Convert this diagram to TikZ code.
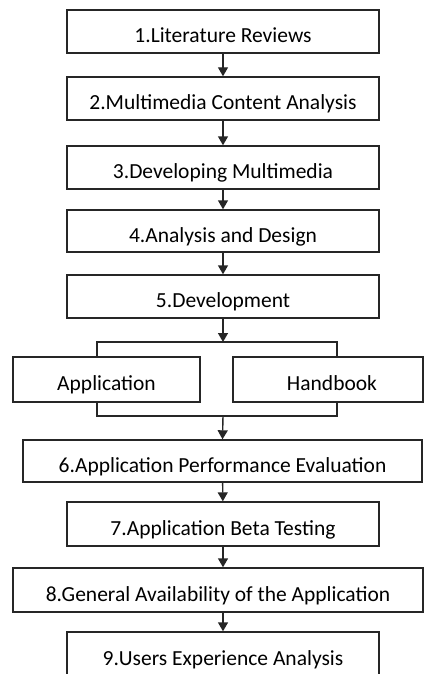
\documentclass[tikz,border=0pt]{standalone}
\usepackage{fontspec}
\setmainfont{Carlito}
\usetikzlibrary{arrows.meta}

\begin{document}
\begin{tikzpicture}[x=1pt, y=-1pt, line width=1.4pt, draw=black!85,
        >={Triangle[length=9pt, width=10pt]},
        stage/.style={draw, minimum height=43pt, inner sep=0pt, text height=22pt, text depth=0pt, font=\fontsize{21.5}{24}\selectfont}]
        \useasboundingbox (0,0) rectangle (425,674);

        \node[stage, minimum width=312pt] (lit)  at (223,31.5) {1.Literature Reviews};
        \node[stage, minimum width=312pt] (mca)  at (223,98.5) {2.Multimedia Content Analysis};
        \node[stage, minimum width=312pt] (dev3) at (223,167.5) {3.Developing Multimedia};
        \node[stage, minimum width=312pt, minimum height=42pt] (ad) at (223,231) {4.Analysis and Design};
        \node[stage, minimum width=312pt] (dev5) at (223,296.5) {5.Development};
        \node[stage, minimum width=187pt, minimum height=45pt] (app)  at (106.5,379.5) {Application};
        \node[stage, minimum width=190pt, minimum height=45pt] (hand) at (328,379.5) {\hspace{8pt}Handbook};
        \node[stage, minimum width=399pt, minimum height=42pt] (eval) at (222.5,461) {6.Application Performance Evaluation};
        \node[stage, minimum width=312pt, minimum height=44pt] (beta) at (223,524) {7.Application Beta Testing};
        \node[stage, minimum width=410pt, minimum height=44pt] (ga)   at (218,590) {8.General Availability of the Application};
        \node[stage, minimum width=312pt, minimum height=44pt] (ux)   at (223,654) {9.Users Experience Analysis};

        \coordinate (forkL) at (97,342);
        \coordinate (forkR) at (337,342);
        \coordinate (joinL) at (97,416);
        \coordinate (joinR) at (337,416);

        \draw (app.north -| forkL) -- (forkL) -- (forkR) -- (hand.north -| forkR);
        \draw (app.south -| joinL) -- (joinL) -- (joinR) -- (hand.south -| joinR);

        \path[->]
            (lit) edge (mca)
            (mca) edge (dev3)
            (dev3) edge (ad)
            (ad) edge (dev5)
            (dev5.south) edge (dev5.south |- forkL)
            (dev5.south |- joinL) edge (eval.north)
            (eval) edge (beta)
            (beta) edge (ga.north -| beta.south)
            (ga.south -| ux.north) edge (ux);
\end{tikzpicture}
\end{document}
